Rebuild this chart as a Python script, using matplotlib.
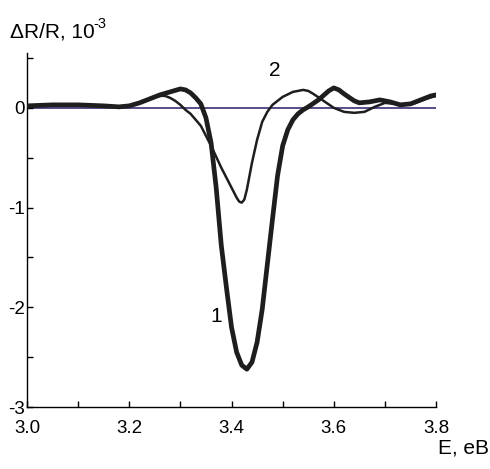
import numpy as np
import matplotlib.pyplot as plt
from matplotlib.ticker import MultipleLocator

plt.rcParams['font.family'] = ['Liberation Sans', 'DejaVu Sans']
plt.rcParams['axes.unicode_minus'] = False

# curve 1 (thick)
e1 = [3.00, 3.05, 3.10, 3.15, 3.18, 3.20, 3.22, 3.24, 3.26, 3.28, 3.30, 3.31,
      3.32, 3.33, 3.34, 3.35, 3.36, 3.37, 3.38, 3.39, 3.40, 3.41, 3.42, 3.43,
      3.44, 3.45, 3.46, 3.47, 3.48, 3.49, 3.50, 3.51, 3.52, 3.53, 3.54, 3.55,
      3.57, 3.59, 3.60, 3.61, 3.62, 3.64, 3.65, 3.67, 3.69, 3.71, 3.73, 3.75,
      3.77, 3.79, 3.80]
r1 = [0.02, 0.03, 0.03, 0.02, 0.01, 0.02, 0.05, 0.09, 0.13, 0.16, 0.19, 0.18,
      0.15, 0.10, 0.04, -0.10, -0.35, -0.80, -1.38, -1.80, -2.20, -2.45, -2.58, -2.62,
      -2.55, -2.35, -2.02, -1.57, -1.12, -0.68, -0.38, -0.22, -0.12, -0.06, -0.02, 0.01,
      0.08, 0.17, 0.20, 0.18, 0.14, 0.07, 0.05, 0.06, 0.08, 0.06, 0.03, 0.04,
      0.08, 0.12, 0.13]

# curve 2 (thin)
e2 = [3.00, 3.05, 3.10, 3.15, 3.18, 3.20, 3.22, 3.24, 3.26, 3.27, 3.28, 3.29,
      3.30, 3.31, 3.32, 3.34, 3.36, 3.38, 3.40, 3.41, 3.415, 3.42, 3.425, 3.43,
      3.44, 3.45, 3.46, 3.47, 3.48, 3.50, 3.52, 3.54, 3.55, 3.56, 3.58, 3.60,
      3.62, 3.64, 3.66, 3.68, 3.70, 3.72, 3.74, 3.76, 3.78, 3.80]
r2 = [0.02, 0.03, 0.03, 0.02, 0.01, 0.02, 0.05, 0.09, 0.12, 0.12, 0.10, 0.07,
      0.03, -0.02, -0.06, -0.18, -0.38, -0.60, -0.80, -0.90, -0.94, -0.95, -0.92, -0.82,
      -0.55, -0.32, -0.14, -0.04, 0.03, 0.11, 0.16, 0.18, 0.17, 0.14, 0.07, 0.00,
      -0.04, -0.05, -0.04, 0.01, 0.05, 0.04, 0.03, 0.05, 0.09, 0.12]

fig = plt.figure(figsize=(4.9, 4.69), dpi=100)
ax = fig.add_axes([0.055, 0.132, 0.835, 0.755])

ax.axhline(0, color='#3c2d78', lw=1.2, zorder=1)
ax.plot(e2, r2, color='#1e1e1e', lw=1.8, zorder=2)
ax.plot(e1, r1, color='#1e1e1e', lw=3.4, zorder=3)

ax.set_xlim(3.0, 3.8)
ax.set_ylim(-3, 0.55)
ax.set_xticks([3.0, 3.2, 3.4, 3.6, 3.8])
ax.set_xticklabels(['3.0', '3.2', '3.4', '3.6', '3.8'])
ax.set_yticks([0, -1, -2, -3])
ax.xaxis.set_minor_locator(MultipleLocator(0.1))
ax.yaxis.set_minor_locator(MultipleLocator(0.5))
ax.tick_params(which='both', direction='in', length=4, width=1, labelsize=13.5)
ax.tick_params(axis='x', pad=9)
ax.tick_params(axis='y', pad=1.5)
for s in ['top', 'right']:
    ax.spines[s].set_visible(False)
for s in ['left', 'bottom']:
    ax.spines[s].set_linewidth(1.0)

fig.text(0.02, 0.919, 'ΔR/R, 10', fontsize=15, va='baseline')
fig.text(0.19, 0.94, '-3', fontsize=10.5, va='baseline')
fig.text(0.998, 0.034, 'E, eB', fontsize=15, ha='right', va='baseline')
ax.text(3.485, 0.37, '2', fontsize=15, ha='center', va='center')
ax.text(3.37, -2.09, '1', fontsize=15, ha='center', va='center')

fig.savefig('out.png', dpi=100)
